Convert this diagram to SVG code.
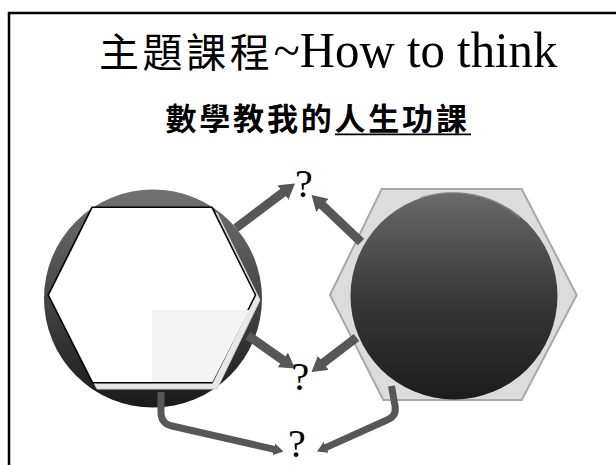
<svg xmlns="http://www.w3.org/2000/svg" width="616" height="465" viewBox="0 0 616 465">
<style>
.cjk{font-family:"Noto Sans CJK TC","Noto Sans CJK SC",sans-serif;fill:#000}
.q{font-family:"Liberation Serif",serif;font-size:40px;fill:#000;text-anchor:middle}
.arr{fill:none;stroke:#575757;stroke-linejoin:round;stroke-linecap:butt}
.big{stroke-width:9;marker-end:url(#hb)}
.small{stroke-width:7;marker-end:url(#hs)}
</style>
<defs>
<marker id="hb" viewBox="0 0 15 18" markerWidth="15" markerHeight="18" refX="4" refY="9" orient="auto" markerUnits="userSpaceOnUse"><path d="M0,0 L15,9 L0,18 z" fill="#575757"/></marker>
<marker id="hs" viewBox="0 0 10 12" markerWidth="10" markerHeight="12" refX="3" refY="6" orient="auto" markerUnits="userSpaceOnUse"><path d="M0,0 L10,6 L0,12 z" fill="#575757"/></marker>
<linearGradient id="gl" x1="0" y1="0" x2="0" y2="1"><stop offset="0" stop-color="#727272"/><stop offset="0.5" stop-color="#454545"/><stop offset="1" stop-color="#1a1a1a"/></linearGradient>
<linearGradient id="gr" x1="0" y1="0" x2="0" y2="1"><stop offset="0" stop-color="#6a6a6a"/><stop offset="0.5" stop-color="#393939"/><stop offset="1" stop-color="#1c1c1c"/></linearGradient>
</defs>
<rect x="9" y="13" width="640" height="480" fill="none" stroke="#000" stroke-width="2.5"/>
<g id="title">
<text y="67"><tspan x="99" class="cjk" font-size="40" letter-spacing="3.6">主題課程</tspan><tspan font-family="Liberation Serif" font-size="50" textLength="284" lengthAdjust="spacingAndGlyphs">~How to think</tspan></text>
</g>
<g id="subtitle">
<text x="165.5" y="129.5" class="cjk" font-size="31" font-weight="bold" letter-spacing="2.8">數學教我的人生功課</text>
<line x1="335" y1="134.3" x2="471" y2="134.3" stroke="#000" stroke-width="1.8"/>
</g>
<g id="node-left">
<circle cx="153" cy="298.5" r="109" fill="url(#gl)"/>
<polygon points="97,213 217,213 260,300 217,389 97,389 53,300" fill="#e8e8e8" stroke="#d0d0d0" stroke-width="1"/>
<polygon points="92,207.3 212,207.3 255.5,295 212,382.7 92.5,382.7 48.3,295" fill="#fff" stroke="#000" stroke-width="1.6"/>
<polygon points="152,310 249.5,310 212.5,382 152,382" fill="#f4f4f4"/>
</g>
<g id="node-right">
<polygon points="381.7,189 521.7,189 576.7,295 521.7,400 383.3,400 330,295" fill="#dcdcdc" stroke="#a8a8a8" stroke-width="2"/>
<circle cx="454" cy="296" r="103.5" fill="url(#gr)"/>
<path d="M420,198 A103.5,103.5 0 0 1 520,218" fill="none" stroke="#8a8a8a" stroke-width="1.5" opacity="0.7"/>
</g>
<g id="connectors">
<path class="arr big" d="M236,228 L286.2,190.1"/>
<path class="arr big" d="M361,242 L319.5,202.6"/>
<path class="arr big" d="M248,335.5 L286,362.2"/>
<path class="arr big" d="M356.5,337.5 L320.2,365.3"/>
<path class="arr small" d="M161,392 L161,414 Q162,424 172,426 L276.7,449.9"/>
<path class="arr small" d="M391.5,386 L395,406 Q397,416 387,420 L323.4,448.6"/>
</g>
<g id="labels">
<text class="q" x="304" y="197">?</text>
<text class="q" x="300.5" y="390">?</text>
<text class="q" x="297" y="457">?</text>
</g>
</svg>
